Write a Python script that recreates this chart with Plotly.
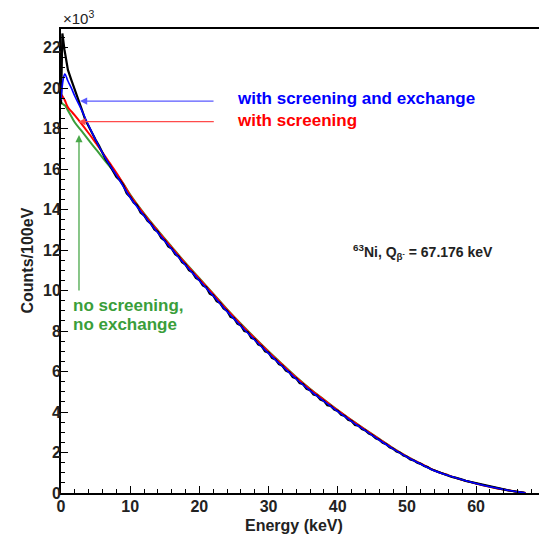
import plotly.graph_objects as go

# ---------------- data (counts per 100 eV, in units of 10^3) ----------------
theory_energy = [0.0, 0.3, 0.55, 1.0, 1.5, 2.0, 3.0, 4.0, 5.0, 6.0, 7.0, 8.0, 9.0,
                 10.0, 12.0, 14.0, 16.0, 18.0, 20.0, 22.0, 24.0, 26.0, 28.0, 30.0,
                 32.0, 34.0, 36.0, 38.0, 40.0, 42.0, 44.0, 46.0, 48.0, 50.0, 52.0,
                 54.0, 56.0, 58.0, 60.0, 62.0, 64.0, 66.0, 67.176]

blue_screen_exchange = [19.4, 20.4, 20.7, 20.35, 20.0, 19.6, 18.9, 18.15, 17.45, 16.8,
                        16.22, 15.7, 15.15, 14.6, 13.7, 12.86, 12.05, 11.25, 10.5, 9.74,
                        8.97, 8.25, 7.56, 6.9, 6.26, 5.63, 5.06, 4.54, 4.03, 3.54, 3.08,
                        2.62, 2.18, 1.78, 1.43, 1.1, 0.86, 0.65, 0.47, 0.31, 0.17, 0.06, 0.0]

red_screen = [19.7, 19.55, 19.4, 19.05, 18.85, 18.65, 18.22, 17.77, 17.3, 16.82,
              16.32, 15.82, 15.27, 14.7, 13.78, 12.94, 12.13, 11.33, 10.58, 9.82,
              9.05, 8.33, 7.64, 6.97, 6.33, 5.7, 5.12, 4.6, 4.08, 3.59, 3.12,
              2.66, 2.21, 1.8, 1.45, 1.11, 0.87, 0.65, 0.47, 0.31, 0.17, 0.06, 0.0]

green_no_screen = [19.3, 19.2, 19.15, 18.9, 18.6, 18.3, 17.87, 17.43, 17.0, 16.57,
                   16.15, 15.75, 15.28, 14.74, 13.81, 12.97, 12.16, 11.36, 10.61, 9.85,
                   9.08, 8.36, 7.67, 7.0, 6.36, 5.73, 5.15, 4.62, 4.1, 3.6, 3.13,
                   2.67, 2.22, 1.81, 1.45, 1.11, 0.87, 0.65, 0.47, 0.31, 0.17, 0.06, 0.0]

data_energy = ([0.0, 0.2] + [round(0.5 * i, 1) for i in range(1, 135)])
data_counts = [19.2, 22.7, 21.9, 20.9, 20.4, 19.95, 19.45, 18.95, 18.45, 18.1, 17.75,
               17.45, 17.15, 16.8, 16.45, 16.22, 15.95, 15.62, 15.45, 15.2, 14.8,
               14.62, 14.35, 14.2, 13.85, 13.72, 13.45, 13.3, 13.02, 12.9, 12.6,
               12.47, 12.18, 12.08, 11.8, 11.68, 11.4, 11.28, 11.0, 10.9, 10.62,
               10.52, 10.25, 10.16, 9.85, 9.76, 9.48, 9.38, 9.12, 9.0, 8.7,
               8.64, 8.36, 8.28, 8.0, 7.95, 7.66, 7.6, 7.34, 7.26, 7.0,
               6.93, 6.68, 6.6, 6.36, 6.28, 6.04, 5.97, 5.72, 5.66, 5.43,
               5.37, 5.14, 5.08, 4.86, 4.82, 4.62, 4.55, 4.34, 4.3, 4.12,
               4.05, 3.86, 3.8, 3.62, 3.56, 3.36, 3.32, 3.16, 3.09, 2.93,
               2.86, 2.7, 2.63, 2.48, 2.41, 2.26, 2.19, 2.05, 1.99, 1.85,
               1.79, 1.66, 1.61, 1.49, 1.44, 1.33, 1.28, 1.17, 1.11, 1.02,
               0.98, 0.9, 0.87, 0.79, 0.76, 0.69, 0.66, 0.6, 0.56, 0.51,
               0.48, 0.43, 0.39, 0.35, 0.31, 0.27, 0.24, 0.2, 0.17, 0.14,
               0.11, 0.08, 0.06, 0.03, 0.01]

x_ticks = [0, 10, 20, 30, 40, 50, 60]
y_ticks = [0, 2, 4, 6, 8, 10, 12, 14, 16, 18, 20, 22]

FONT = "Liberation Sans"
BLUE = "#0000ff"
RED = "#ff0000"
GREEN = "#3a9e3a"
TXT = "#222222"

fig = go.Figure()

fig.add_trace(go.Scatter(x=theory_energy, y=green_no_screen, mode="lines",
                         line=dict(color=GREEN, width=2, shape="spline"), showlegend=False))
fig.add_trace(go.Scatter(x=theory_energy, y=red_screen, mode="lines",
                         line=dict(color=RED, width=2, shape="spline"), showlegend=False))
fig.add_trace(go.Scatter(x=data_energy, y=data_counts, mode="lines",
                         line=dict(color="black", width=2.2), showlegend=False))
fig.add_trace(go.Scatter(x=theory_energy, y=blue_screen_exchange, mode="lines",
                         line=dict(color=BLUE, width=1.6, shape="spline"), showlegend=False))

tickfont = dict(family=FONT, size=16, color=TXT, weight="bold")

fig.update_xaxes(range=[0, 69.1], tickvals=x_ticks, ticks="inside", ticklen=7,
                 tickwidth=1.2, tickcolor="black", showline=True, linewidth=2,
                 linecolor="black", mirror=True, showgrid=False, zeroline=False,
                 tickfont=tickfont, ticklabelstandoff=-2,
                 minor=dict(dtick=2, ticks="inside", ticklen=4, tickwidth=1,
                            tickcolor="black", showgrid=False))
fig.update_yaxes(range=[0, 22.92], tickvals=y_ticks, ticks="inside", ticklen=7,
                 tickwidth=1.2, tickcolor="black", showline=True, linewidth=2,
                 linecolor="black", mirror=False, showgrid=False, zeroline=False,
                 tickfont=tickfont, ticklabelstandoff=-5,
                 minor=dict(dtick=0.5, ticks="inside", ticklen=4, tickwidth=1,
                            tickcolor="black", showgrid=False))

# axis titles
fig.add_annotation(text="<b>Energy (keV)</b>", xref="paper", yref="paper",
                   x=(293.5 - 61) / 478, y=-(525 - 493) / 464, xanchor="center",
                   yanchor="middle", showarrow=False,
                   font=dict(family=FONT, size=16, color=TXT))
fig.add_annotation(text="<b>Counts/100eV</b>", xref="paper", yref="paper",
                   x=-(61 - 26.5) / 478, y=0.5, xanchor="center", yanchor="middle",
                   showarrow=False, textangle=-90,
                   font=dict(family=FONT, size=16, color=TXT))
fig.add_annotation(text="×10<sup>3</sup>", xref="paper", yref="paper",
                   x=0.0, y=1.0, xanchor="left", yanchor="bottom", showarrow=False,
                   font=dict(family=FONT, size=15, color=TXT))

# labels
fig.add_annotation(text="<b>with screening and exchange</b>", x=25.1, y=19.49,
                   xanchor="left", yanchor="middle", showarrow=False,
                   font=dict(family=FONT, size=17, color=BLUE))
fig.add_annotation(text="<b>with screening</b>", x=25.1, y=18.39,
                   xanchor="left", yanchor="middle", showarrow=False,
                   font=dict(family=FONT, size=17, color=RED))
fig.add_annotation(text="<b>no screening,</b>", x=1.5, y=9.28,
                   xanchor="left", yanchor="middle", showarrow=False,
                   font=dict(family=FONT, size=17, color=GREEN))
fig.add_annotation(text="<b>no exchange</b>", x=1.5, y=8.3,
                   xanchor="left", yanchor="middle", showarrow=False,
                   font=dict(family=FONT, size=17, color=GREEN))
fig.add_annotation(text="<b><sup>63</sup>Ni, Q<sub>β<sup>-</sup></sub> = 67.176 keV</b>",
                   x=41.9, y=11.9, xanchor="left", yanchor="middle", showarrow=False,
                   font=dict(family=FONT, size=14, color=TXT))

# arrows
fig.add_annotation(x=2.75, y=19.36, ax=135, ay=0, axref="pixel", ayref="pixel",
                   showarrow=True, arrowhead=2, arrowsize=1.1, arrowwidth=1.3,
                   arrowcolor="#5a5aff", text="")
fig.add_annotation(x=2.5, y=18.34, ax=137, ay=0, axref="pixel", ayref="pixel",
                   showarrow=True, arrowhead=2, arrowsize=1.1, arrowwidth=1.3,
                   arrowcolor="#ff4a4a", text="")
fig.add_annotation(x=2.6, y=17.68, ax=0, ay=157, axref="pixel", ayref="pixel",
                   showarrow=True, arrowhead=2, arrowsize=1.1, arrowwidth=1.3,
                   arrowcolor="#4aa84a", text="")

fig.update_layout(width=539, height=535, margin=dict(l=61, r=0, t=29, b=42),
                  plot_bgcolor="white", paper_bgcolor="white",
                  font=dict(family=FONT, color=TXT), showlegend=False)

fig.write_html("out.html", config={"displayModeBar": False},
               post_script="document.body.style.margin='0';document.body.style.padding='0';"
                           "document.documentElement.style.overflow='hidden';")
